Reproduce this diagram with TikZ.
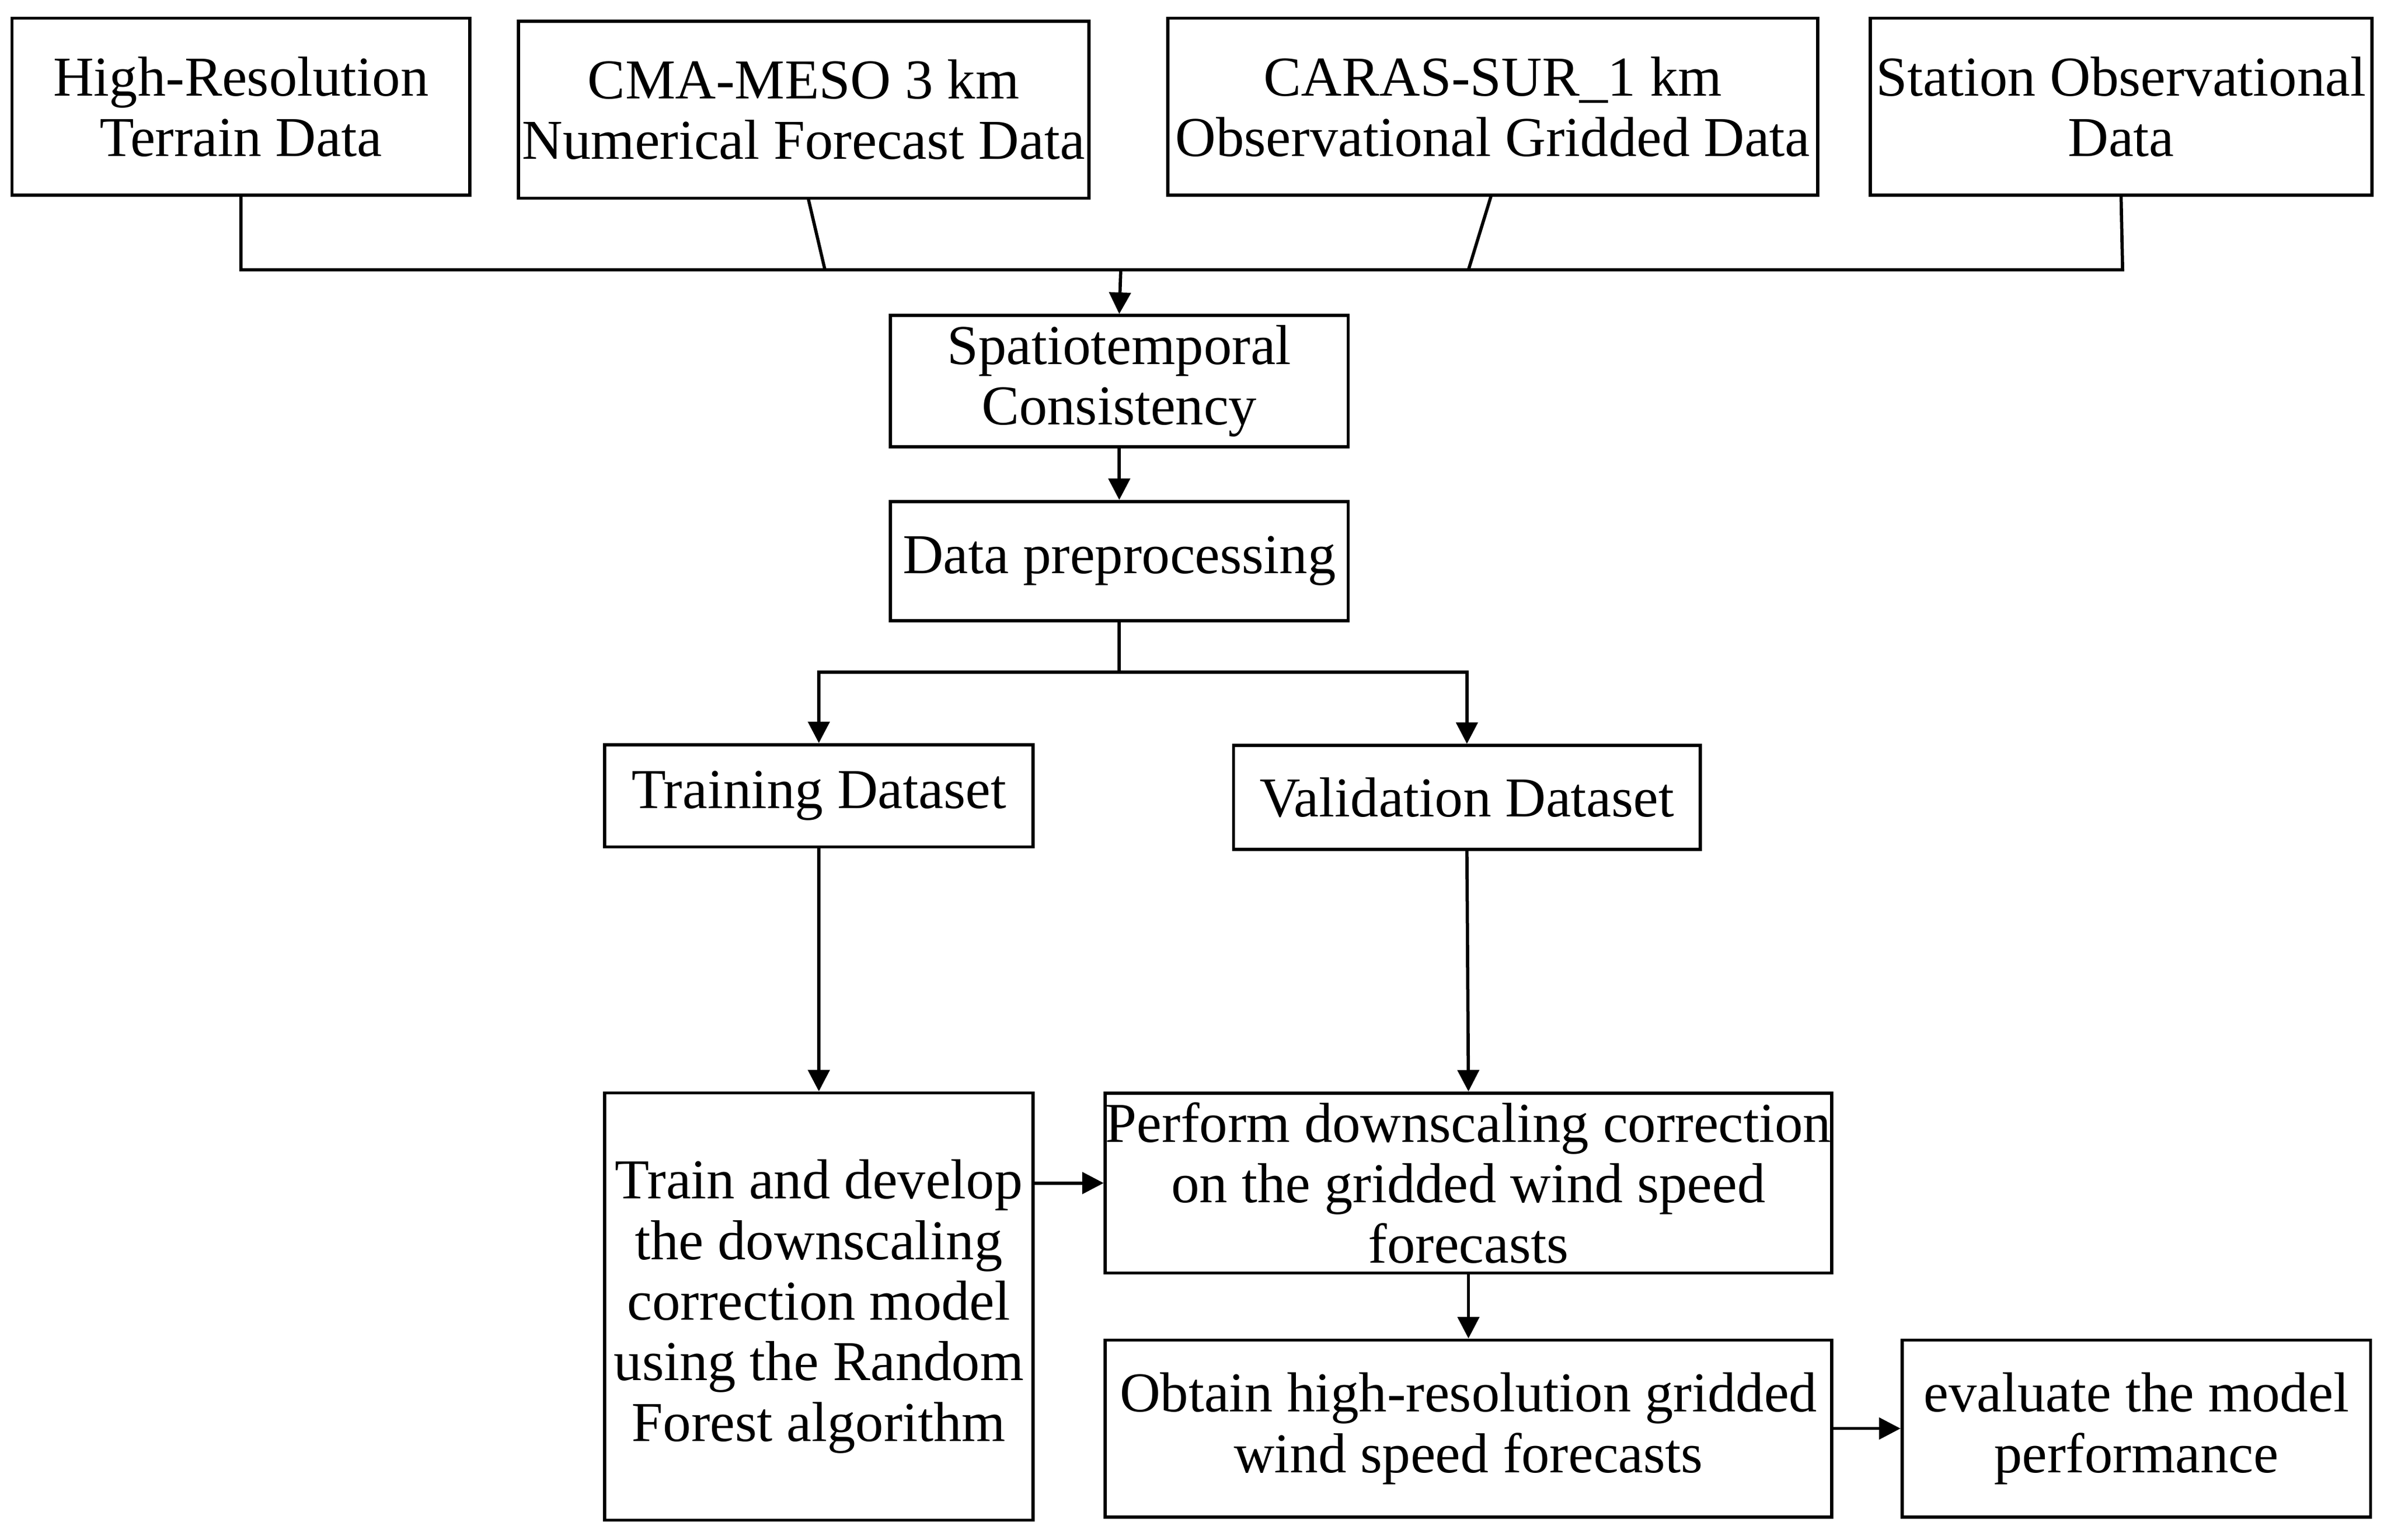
\documentclass[tikz,border=0pt]{standalone}
\usepackage{fontspec}
\setmainfont{Liberation Serif}
\usetikzlibrary{arrows.meta}
\begin{document}
\begin{tikzpicture}[x=0.01cm,y=-0.01cm,
 box/.style={draw,line width=0.6pt,align=center,inner sep=0pt,font=\fontsize{10.5}{11.3}\selectfont},
 ln/.style={line width=0.6pt},
 ar/.style={ln,-{Triangle[length=4pt,width=4pt]}}]
\useasboundingbox (0,0) rectangle (1568,1010);
\node[box,minimum width=3.00cm,minimum height=1.16cm] (a) at (158,70) {High-Resolution\\Terrain Data};
\node[box,minimum width=3.74cm,minimum height=1.16cm] (b) at (527,72) {CMA-MESO 3 km\\Numerical Forecast Data};
\node[box,minimum width=4.26cm,minimum height=1.16cm] (c) at (979,70) {CARAS-SUR\_1 km\\Observational Gridded Data};
\node[box,minimum width=3.29cm,minimum height=1.16cm] (d) at (1391,70) {Station Observational\\Data};
\node[box,minimum width=3.00cm,minimum height=0.86cm] (s) at (734,250) {Spatiotemporal\\Consistency};
\node[box,minimum width=3.00cm,minimum height=0.78cm] (p) at (734,368) {Data preprocessing};
\node[box,minimum width=2.81cm,minimum height=0.67cm] (t) at (537,522) {Training Dataset};
\node[box,minimum width=3.06cm,minimum height=0.68cm] (v) at (962,523) {Validation Dataset};
\node[box,minimum width=2.81cm,minimum height=2.80cm] (m) at (537,857) {Train and develop\\the downscaling\\correction model\\using the Random\\Forest algorithm};
\node[box,minimum width=4.76cm,minimum height=1.18cm] (f) at (963,776) {Perform downscaling correction\\on the gridded wind speed\\forecasts};
\node[box,minimum width=4.76cm,minimum height=1.16cm] (o) at (963,937) {Obtain high-resolution gridded\\wind speed forecasts};
\node[box,minimum width=3.07cm,minimum height=1.16cm] (e) at (1401,937) {evaluate the model\\performance};
\coordinate (bl) at (158,177); \coordinate (br) at (1392,177); \coordinate (bm) at (735,177);
\draw[ln] (a.south) -- (bl) -- (br) -- (d.south);
\draw[ln] (530,130) -- (541,177);
\draw[ln] (978,128) -- (963,177);
\draw[ar] (bm) -- (s.north);
\draw[ar] (s.south) -- (p.north);
\coordinate (j) at (734,441);
\draw[ln] (p.south) -- (j);
\draw[ar] (j) -| (t.north);
\draw[ar] (j) -| (v.north);
\draw[ar] (t.south) -- (m.north);
\draw[ar] (v.south) -- (f.north);
\draw[ar] (m.east |- f.west) -- (f.west);
\draw[ar] (f.south) -- (o.north);
\draw[ar] (o.east) -- (e.west);
\end{tikzpicture}
\end{document}
